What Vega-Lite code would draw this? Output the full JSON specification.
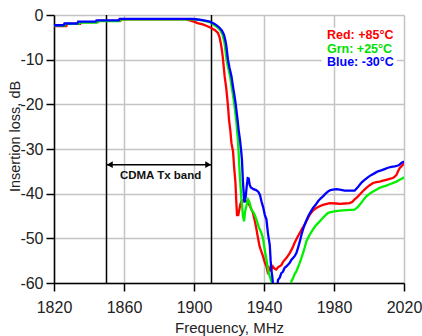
{
  "$schema": "https://vega.github.io/schema/vega-lite/v6.json",
  "width": 350,
  "height": 268,
  "autosize": {"type": "none"},
  "padding": {"left": 54, "top": 15, "right": 18, "bottom": 53},
  "background": "white",
  "config": {"view": {"stroke": null}, "font": "Liberation Sans"},
  "datasets": {
    "curves": [
      {"s":"Red","f":1820,"db":-2.5},{"s":"Red","f":1827,"db":-2.5},{"s":"Red","f":1827.5,"db":-2.0},{"s":"Red","f":1835,"db":-2.0},{"s":"Red","f":1835.5,"db":-1.6},{"s":"Red","f":1845,"db":-1.6},{"s":"Red","f":1845.5,"db":-1.3},{"s":"Red","f":1858,"db":-1.3},{"s":"Red","f":1858.5,"db":-0.95},{"s":"Red","f":1895,"db":-0.95},{"s":"Red","f":1897.6,"db":-1.2},{"s":"Red","f":1900,"db":-1.5},{"s":"Red","f":1902,"db":-1.8},{"s":"Red","f":1905,"db":-2.1},{"s":"Red","f":1907,"db":-2.4},{"s":"Red","f":1909.9,"db":-2.9},{"s":"Red","f":1912,"db":-3.4},{"s":"Red","f":1913.7,"db":-4.0},{"s":"Red","f":1914.6,"db":-5.0},{"s":"Red","f":1915.3,"db":-6.3},{"s":"Red","f":1916,"db":-8},{"s":"Red","f":1916.6,"db":-10},{"s":"Red","f":1917.5,"db":-13.7},{"s":"Red","f":1918.3,"db":-16},{"s":"Red","f":1918.9,"db":-18.2},{"s":"Red","f":1919.5,"db":-20.8},{"s":"Red","f":1920,"db":-23.4},{"s":"Red","f":1920.8,"db":-26},{"s":"Red","f":1921.4,"db":-28.7},{"s":"Red","f":1922.3,"db":-30.5},{"s":"Red","f":1922.9,"db":-33.9},{"s":"Red","f":1923.7,"db":-37.6},{"s":"Red","f":1924.2,"db":-42.1},{"s":"Red","f":1924.6,"db":-44.8},{"s":"Red","f":1925.3,"db":-44.8},{"s":"Red","f":1925.7,"db":-44},{"s":"Red","f":1926.4,"db":-42.5},{"s":"Red","f":1927.1,"db":-41.7},{"s":"Red","f":1928,"db":-41.5},{"s":"Red","f":1929,"db":-41.3},{"s":"Red","f":1930.5,"db":-42},{"s":"Red","f":1932,"db":-42.8},{"s":"Red","f":1933.7,"db":-44.3},{"s":"Red","f":1934.7,"db":-46},{"s":"Red","f":1935.7,"db":-48},{"s":"Red","f":1936.6,"db":-50},{"s":"Red","f":1937.5,"db":-51.8},{"s":"Red","f":1938.5,"db":-53},{"s":"Red","f":1939.4,"db":-54},{"s":"Red","f":1940.4,"db":-55.3},{"s":"Red","f":1941.4,"db":-56.3},{"s":"Red","f":1942,"db":-57.4},{"s":"Red","f":1942.8,"db":-56.6},{"s":"Red","f":1943.5,"db":-57.2},{"s":"Red","f":1944.2,"db":-57},{"s":"Red","f":1945.1,"db":-56.3},{"s":"Red","f":1946,"db":-56.8},{"s":"Red","f":1947,"db":-57},{"s":"Red","f":1948,"db":-56.5},{"s":"Red","f":1949.9,"db":-56},{"s":"Red","f":1951,"db":-55.2},{"s":"Red","f":1953,"db":-54.3},{"s":"Red","f":1954.7,"db":-53.3},{"s":"Red","f":1956.2,"db":-52.2},{"s":"Red","f":1957.5,"db":-51},{"s":"Red","f":1959,"db":-49.8},{"s":"Red","f":1960.4,"db":-48.8},{"s":"Red","f":1961.8,"db":-47.8},{"s":"Red","f":1963.3,"db":-46.9},{"s":"Red","f":1964.7,"db":-45.8},{"s":"Red","f":1966.1,"db":-44.7},{"s":"Red","f":1968,"db":-43.8},{"s":"Red","f":1969.9,"db":-43.2},{"s":"Red","f":1971.8,"db":-42.8},{"s":"Red","f":1973.7,"db":-42.5},{"s":"Red","f":1977.5,"db":-42.1},{"s":"Red","f":1981.4,"db":-42.2},{"s":"Red","f":1983.3,"db":-42.3},{"s":"Red","f":1986.1,"db":-42.2},{"s":"Red","f":1989,"db":-42.1},{"s":"Red","f":1990.5,"db":-41.8},{"s":"Red","f":1991.8,"db":-41.3},{"s":"Red","f":1993.3,"db":-40.8},{"s":"Red","f":1994.7,"db":-40.2},{"s":"Red","f":1996.6,"db":-39.4},{"s":"Red","f":1998.5,"db":-38.7},{"s":"Red","f":2000.4,"db":-38.1},{"s":"Red","f":2002.3,"db":-37.6},{"s":"Red","f":2004.2,"db":-37.4},{"s":"Red","f":2006.1,"db":-37.3},{"s":"Red","f":2008,"db":-37.1},{"s":"Red","f":2009.9,"db":-36.9},{"s":"Red","f":2011.8,"db":-36.7},{"s":"Red","f":2013.7,"db":-36.5},{"s":"Red","f":2014.7,"db":-36.2},{"s":"Red","f":2015.7,"db":-35.8},{"s":"Red","f":2016.6,"db":-35},{"s":"Red","f":2017.5,"db":-34.3},{"s":"Red","f":2018.5,"db":-33.9},{"s":"Red","f":2019.4,"db":-33.5},{"s":"Red","f":2020,"db":-33},
      {"s":"Grn","f":1820,"db":-2.4},{"s":"Grn","f":1826,"db":-2.4},{"s":"Grn","f":1826.5,"db":-2.0},{"s":"Grn","f":1834,"db":-2.0},{"s":"Grn","f":1834.5,"db":-1.7},{"s":"Grn","f":1844.5,"db":-1.7},{"s":"Grn","f":1845,"db":-1.35},{"s":"Grn","f":1857.5,"db":-1.35},{"s":"Grn","f":1858,"db":-0.95},{"s":"Grn","f":1900,"db":-0.95},{"s":"Grn","f":1903,"db":-1.1},{"s":"Grn","f":1906,"db":-1.3},{"s":"Grn","f":1909,"db":-1.6},{"s":"Grn","f":1911,"db":-2.1},{"s":"Grn","f":1912.8,"db":-2.6},{"s":"Grn","f":1913.8,"db":-2.9},{"s":"Grn","f":1915.2,"db":-3.5},{"s":"Grn","f":1916.3,"db":-4.4},{"s":"Grn","f":1917.2,"db":-5.8},{"s":"Grn","f":1917.7,"db":-7},{"s":"Grn","f":1918.6,"db":-10},{"s":"Grn","f":1919.5,"db":-11.8},{"s":"Grn","f":1920.6,"db":-13.7},{"s":"Grn","f":1921.4,"db":-15.8},{"s":"Grn","f":1922.1,"db":-17.5},{"s":"Grn","f":1922.8,"db":-19.3},{"s":"Grn","f":1923.4,"db":-21.2},{"s":"Grn","f":1924.1,"db":-23.5},{"s":"Grn","f":1924.6,"db":-25.7},{"s":"Grn","f":1925.1,"db":-28},{"s":"Grn","f":1925.6,"db":-31.5},{"s":"Grn","f":1926.1,"db":-35.4},{"s":"Grn","f":1927.1,"db":-41.3},{"s":"Grn","f":1928,"db":-45},{"s":"Grn","f":1928.6,"db":-46.2},{"s":"Grn","f":1929.2,"db":-44},{"s":"Grn","f":1929.9,"db":-42.8},{"s":"Grn","f":1930.9,"db":-41.3},{"s":"Grn","f":1931.6,"db":-41.8},{"s":"Grn","f":1932.8,"db":-43.6},{"s":"Grn","f":1934.2,"db":-44.3},{"s":"Grn","f":1935.7,"db":-45.8},{"s":"Grn","f":1937,"db":-47.5},{"s":"Grn","f":1938.5,"db":-48.8},{"s":"Grn","f":1939.4,"db":-50},{"s":"Grn","f":1940.4,"db":-52.5},{"s":"Grn","f":1941.4,"db":-54.8},{"s":"Grn","f":1942.5,"db":-57.5},{"s":"Grn","f":1943.3,"db":-58.5},{"s":"Grn","f":1944.2,"db":-59.6},{"s":"Grn","f":1944.8,"db":-61},{"s":"Grn","f":1955,"db":-61.5},{"s":"Grn","f":1955.7,"db":-59.6},{"s":"Grn","f":1956.6,"db":-58.9},{"s":"Grn","f":1957.5,"db":-58},{"s":"Grn","f":1958.5,"db":-57.4},{"s":"Grn","f":1959.4,"db":-56.5},{"s":"Grn","f":1960.4,"db":-55.5},{"s":"Grn","f":1961.4,"db":-54.4},{"s":"Grn","f":1962.3,"db":-53.3},{"s":"Grn","f":1963.3,"db":-52},{"s":"Grn","f":1964.2,"db":-50.7},{"s":"Grn","f":1966.1,"db":-49.2},{"s":"Grn","f":1968,"db":-48},{"s":"Grn","f":1969.5,"db":-47.2},{"s":"Grn","f":1970.9,"db":-46.6},{"s":"Grn","f":1972.3,"db":-46},{"s":"Grn","f":1973.7,"db":-45.4},{"s":"Grn","f":1975.2,"db":-44.8},{"s":"Grn","f":1976.6,"db":-44.3},{"s":"Grn","f":1979.4,"db":-44},{"s":"Grn","f":1983.3,"db":-43.8},{"s":"Grn","f":1987,"db":-43.7},{"s":"Grn","f":1991.8,"db":-43.6},{"s":"Grn","f":1993.3,"db":-43.1},{"s":"Grn","f":1994.7,"db":-42.5},{"s":"Grn","f":1996.6,"db":-41.5},{"s":"Grn","f":1998.5,"db":-40.6},{"s":"Grn","f":2000.4,"db":-40},{"s":"Grn","f":2002.3,"db":-39.5},{"s":"Grn","f":2004.2,"db":-39.1},{"s":"Grn","f":2006.1,"db":-38.7},{"s":"Grn","f":2008,"db":-38.4},{"s":"Grn","f":2009.9,"db":-38.2},{"s":"Grn","f":2011.8,"db":-37.9},{"s":"Grn","f":2013.7,"db":-37.6},{"s":"Grn","f":2015.7,"db":-37.3},{"s":"Grn","f":2017.5,"db":-36.9},{"s":"Grn","f":2019,"db":-36.6},{"s":"Grn","f":2020,"db":-36.3},
      {"s":"Blue","f":1820,"db":-2.3},{"s":"Blue","f":1825.5,"db":-2.3},{"s":"Blue","f":1826,"db":-1.9},{"s":"Blue","f":1833.3,"db":-1.9},{"s":"Blue","f":1833.8,"db":-1.5},{"s":"Blue","f":1843.8,"db":-1.5},{"s":"Blue","f":1844.3,"db":-1.2},{"s":"Blue","f":1857,"db":-1.2},{"s":"Blue","f":1857.5,"db":-0.85},{"s":"Blue","f":1899,"db":-0.85},{"s":"Blue","f":1901,"db":-0.95},{"s":"Blue","f":1904,"db":-1.1},{"s":"Blue","f":1907,"db":-1.3},{"s":"Blue","f":1909,"db":-1.5},{"s":"Blue","f":1911.8,"db":-2.0},{"s":"Blue","f":1913.5,"db":-2.5},{"s":"Blue","f":1914.7,"db":-2.9},{"s":"Blue","f":1916,"db":-3.5},{"s":"Blue","f":1917.1,"db":-4.4},{"s":"Blue","f":1918,"db":-5.8},{"s":"Blue","f":1918.5,"db":-7},{"s":"Blue","f":1919.4,"db":-10},{"s":"Blue","f":1920.3,"db":-11.8},{"s":"Blue","f":1921.4,"db":-13.7},{"s":"Blue","f":1922.2,"db":-15.8},{"s":"Blue","f":1922.9,"db":-17.5},{"s":"Blue","f":1923.6,"db":-19.3},{"s":"Blue","f":1924.2,"db":-21.2},{"s":"Blue","f":1924.9,"db":-23.5},{"s":"Blue","f":1925.5,"db":-25.7},{"s":"Blue","f":1926.3,"db":-28},{"s":"Blue","f":1926.9,"db":-30.2},{"s":"Blue","f":1927.4,"db":-32.4},{"s":"Blue","f":1928,"db":-37.6},{"s":"Blue","f":1928.8,"db":-42},{"s":"Blue","f":1929.5,"db":-40.8},{"s":"Blue","f":1930.1,"db":-38.4},{"s":"Blue","f":1930.7,"db":-36.5},{"s":"Blue","f":1931.3,"db":-36.6},{"s":"Blue","f":1931.8,"db":-38},{"s":"Blue","f":1932.5,"db":-38.6},{"s":"Blue","f":1934,"db":-39},{"s":"Blue","f":1935.5,"db":-39.2},{"s":"Blue","f":1936.8,"db":-39.6},{"s":"Blue","f":1937.7,"db":-40.3},{"s":"Blue","f":1938.6,"db":-41.8},{"s":"Blue","f":1939.5,"db":-43},{"s":"Blue","f":1940.5,"db":-44.8},{"s":"Blue","f":1941.4,"db":-45.8},{"s":"Blue","f":1942.3,"db":-49},{"s":"Blue","f":1943.3,"db":-51.5},{"s":"Blue","f":1943.8,"db":-55},{"s":"Blue","f":1944.2,"db":-57},{"s":"Blue","f":1944.8,"db":-58.8},{"s":"Blue","f":1945.3,"db":-61},{"s":"Blue","f":1947.5,"db":-61.5},{"s":"Blue","f":1948,"db":-59.3},{"s":"Blue","f":1949,"db":-58.8},{"s":"Blue","f":1949.9,"db":-57.8},{"s":"Blue","f":1950.8,"db":-57.5},{"s":"Blue","f":1951.8,"db":-56.6},{"s":"Blue","f":1952.8,"db":-56.3},{"s":"Blue","f":1953.7,"db":-55.9},{"s":"Blue","f":1954.7,"db":-55.5},{"s":"Blue","f":1955.7,"db":-54.8},{"s":"Blue","f":1956.6,"db":-54.4},{"s":"Blue","f":1957.5,"db":-54},{"s":"Blue","f":1958.5,"db":-53.3},{"s":"Blue","f":1959.4,"db":-52.2},{"s":"Blue","f":1960.4,"db":-50.8},{"s":"Blue","f":1961.4,"db":-49.2},{"s":"Blue","f":1962.3,"db":-48},{"s":"Blue","f":1963.3,"db":-46.9},{"s":"Blue","f":1964.2,"db":-46},{"s":"Blue","f":1965.2,"db":-45.1},{"s":"Blue","f":1966.5,"db":-44.2},{"s":"Blue","f":1968,"db":-43.2},{"s":"Blue","f":1969.5,"db":-42.5},{"s":"Blue","f":1970.9,"db":-41.7},{"s":"Blue","f":1972.3,"db":-41.1},{"s":"Blue","f":1973.7,"db":-40.6},{"s":"Blue","f":1975.2,"db":-40},{"s":"Blue","f":1976.6,"db":-39.5},{"s":"Blue","f":1978,"db":-39.2},{"s":"Blue","f":1979.4,"db":-39.1},{"s":"Blue","f":1981.4,"db":-39},{"s":"Blue","f":1983.3,"db":-39.1},{"s":"Blue","f":1986.1,"db":-39.3},{"s":"Blue","f":1989,"db":-39.3},{"s":"Blue","f":1991.8,"db":-39.3},{"s":"Blue","f":1993.3,"db":-38.7},{"s":"Blue","f":1994.7,"db":-38},{"s":"Blue","f":1996,"db":-37.4},{"s":"Blue","f":1997.5,"db":-36.9},{"s":"Blue","f":1999.5,"db":-36.3},{"s":"Blue","f":2001.4,"db":-35.8},{"s":"Blue","f":2003.3,"db":-35.4},{"s":"Blue","f":2005.1,"db":-35},{"s":"Blue","f":2007,"db":-34.8},{"s":"Blue","f":2008.9,"db":-34.5},{"s":"Blue","f":2010.8,"db":-34.2},{"s":"Blue","f":2012.8,"db":-34},{"s":"Blue","f":2014.7,"db":-33.9},{"s":"Blue","f":2016.6,"db":-33.7},{"s":"Blue","f":2017.5,"db":-33.5},{"s":"Blue","f":2018.5,"db":-33.1},{"s":"Blue","f":2020,"db":-32.8}
    ]
  },
  "layer": [
    {
      "data": {"values": [{"f": 1973, "f2": 2016, "db": -2.85, "db2": -11.6}]},
      "mark": {"type": "rect", "fill": "white"},
      "encoding": {
        "x": {
          "field": "f", "type": "quantitative",
          "scale": {"domain": [1820, 2020], "nice": false, "zero": false},
          "axis": {
            "values": [1820,1830,1840,1850,1860,1870,1880,1890,1900,1910,1920,1930,1940,1950,1960,1970,1980,1990,2000,2010,2020],
            "format": "d",
            "labelExpr": "datum.value % 40 === 20 ? datum.label : ''",
            "grid": true,
            "gridColor": "#c4c4c4",
            "gridWidth": 1.5,
            "gridOpacity": {"condition": {"test": "datum.value % 40 === 20", "value": 1}, "value": 0},
            "tickSize": {"condition": {"test": "datum.value % 40 === 20", "value": 8}, "value": 4},
            "tickColor": "black",
            "tickWidth": 1.5,
            "domainColor": "black",
            "domainWidth": 1.5,
            "labelFontSize": 16,
            "labelColor": "#222222",
            "labelPadding": 8,
            "labelFlush": false,
            "labelOverlap": false,
            "title": "Frequency, MHz",
            "titleFontSize": 15,
            "titleFontWeight": "normal",
            "titleColor": "#222222",
            "titleBaseline": "alphabetic",
            "titleY": 49
          }
        },
        "x2": {"field": "f2"},
        "y": {
          "field": "db", "type": "quantitative",
          "scale": {"domain": [-60, 0], "nice": false, "zero": false},
          "axis": {
            "values": [-60,-55,-50,-45,-40,-35,-30,-25,-20,-15,-10,-5,0],
            "labelExpr": "datum.value % 10 === 0 ? (datum.value === 0 ? '0' : '-' + abs(datum.value)) : ''",
            "grid": true,
            "gridColor": "#c4c4c4",
            "gridWidth": 1.5,
            "gridOpacity": {"condition": {"test": "datum.value % 10 === 0", "value": 1}, "value": 0},
            "tickSize": {"condition": {"test": "datum.value % 10 === 0", "value": 8}, "value": 4},
            "tickColor": "black",
            "tickWidth": 1.5,
            "domainColor": "black",
            "domainWidth": 1.5,
            "labelFontSize": 16,
            "labelColor": "#222222",
            "labelPadding": 3,
            "labelFlush": false,
            "labelOverlap": false,
            "title": "Insertion loss, dB",
            "titleFontSize": 14.5,
            "titleFontWeight": "normal",
            "titleColor": "#222222",
            "titleAngle": -90,
            "titleBaseline": "middle",
            "titleX": -39,
            "titleY": 121
          }
        },
        "y2": {"field": "db2"}
      }
    },
    {
      "data": {"values": [{"f": 1850}, {"f": 1910}]},
      "mark": {"type": "rule", "color": "black", "strokeWidth": 1.5},
      "encoding": {"x": {"field": "f", "type": "quantitative"}}
    },
    {
      "data": {"values": [{"f": 1850, "f2": 1910, "db": -33.5}]},
      "mark": {"type": "rule", "color": "black", "strokeWidth": 1.5},
      "encoding": {
        "x": {"field": "f", "type": "quantitative"},
        "x2": {"field": "f2"},
        "y": {"field": "db", "type": "quantitative"}
      }
    },
    {
      "data": {"values": [{"f": 1851.9, "db": -33.5}]},
      "mark": {"type": "point", "shape": "triangle-left", "filled": true, "color": "black", "size": 45, "opacity": 1},
      "encoding": {
        "x": {"field": "f", "type": "quantitative"},
        "y": {"field": "db", "type": "quantitative"}
      }
    },
    {
      "data": {"values": [{"f": 1908.1, "db": -33.5}]},
      "mark": {"type": "point", "shape": "triangle-right", "filled": true, "color": "black", "size": 45, "opacity": 1},
      "encoding": {
        "x": {"field": "f", "type": "quantitative"},
        "y": {"field": "db", "type": "quantitative"}
      }
    },
    {
      "data": {"values": [{"f": 1880.9, "db": -36.1, "label": "CDMA Tx band"}]},
      "mark": {"type": "text", "fontWeight": "bold", "fontSize": 11.5, "color": "#111111", "align": "center", "baseline": "middle"},
      "encoding": {
        "x": {"field": "f", "type": "quantitative"},
        "y": {"field": "db", "type": "quantitative"},
        "text": {"field": "label"}
      }
    },
    {
      "data": {"name": "curves"},
      "transform": [{"filter": "datum.s === 'Red'"}],
      "mark": {"type": "line", "color": "#ff0000", "strokeWidth": 2.3, "clip": true},
      "encoding": {
        "x": {"field": "f", "type": "quantitative"},
        "y": {"field": "db", "type": "quantitative"}
      }
    },
    {
      "data": {"name": "curves"},
      "transform": [{"filter": "datum.s === 'Grn'"}],
      "mark": {"type": "line", "color": "#00f000", "strokeWidth": 2.3, "clip": true},
      "encoding": {
        "x": {"field": "f", "type": "quantitative"},
        "y": {"field": "db", "type": "quantitative"}
      }
    },
    {
      "data": {"name": "curves"},
      "transform": [{"filter": "datum.s === 'Blue'"}],
      "mark": {"type": "line", "color": "#0000ff", "strokeWidth": 2.3, "clip": true},
      "encoding": {
        "x": {"field": "f", "type": "quantitative"},
        "y": {"field": "db", "type": "quantitative"}
      }
    },
    {
      "data": {"values": [
        {"s": "Red", "label": "Red: +85°C", "f": 1976, "db": -4.4},
        {"s": "Grn", "label": "Grn: +25°C", "f": 1976, "db": -7.5},
        {"s": "Blue", "label": "Blue: -30°C", "f": 1976, "db": -10.5}
      ]},
      "mark": {"type": "text", "fontWeight": "bold", "fontSize": 12.5, "align": "left", "baseline": "middle"},
      "encoding": {
        "x": {"field": "f", "type": "quantitative"},
        "y": {"field": "db", "type": "quantitative"},
        "text": {"field": "label"},
        "color": {"field": "s", "type": "nominal", "scale": {"domain": ["Red", "Grn", "Blue"], "range": ["#ff0000", "#00e000", "#0000ff"]}, "legend": null}
      }
    }
  ]
}
